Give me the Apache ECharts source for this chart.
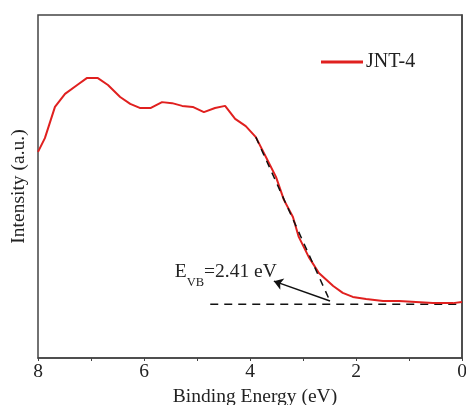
<!DOCTYPE html>
<html>
<head>
<meta charset="utf-8">
<script src="https://cdn.jsdelivr.net/npm/echarts@6/dist/echarts.min.js"></script>
<style>html,body{margin:0;padding:0;background:#fff;}#c{width:466px;height:405px;}</style>
</head>
<body>
<div id="c"></div>
<script>
// Binding energy (eV) and intensity (a.u.)
const energy = [8.0, 7.87, 7.68, 7.49, 7.26, 7.08, 6.87, 6.68, 6.45, 6.26, 6.08, 5.87, 5.66, 5.47, 5.28, 5.08, 4.87, 4.66, 4.47, 4.28, 4.08, 3.89, 3.70, 3.51, 3.36, 3.19, 3.08, 2.89, 2.70, 2.43, 2.25, 2.06, 1.81, 1.49, 1.19, 0.87, 0.55, 0.17, 0.0];
const intensity = [60.1, 64.1, 73.2, 77.0, 79.6, 81.6, 81.6, 79.6, 76.1, 74.1, 72.9, 72.9, 74.6, 74.3, 73.5, 73.2, 71.7, 72.9, 73.5, 69.7, 67.6, 64.4, 58.6, 52.8, 46.1, 41.1, 35.3, 29.4, 24.8, 21.0, 19.0, 17.8, 17.2, 16.6, 16.6, 16.3, 16.0, 16.0, 16.3];
const tangentX = [3.89, 2.50];
const tangentY = [64.4, 16.9];
const baselineX = [4.75, 0.0];
const baselineY = [15.7, 15.7];
const arrowFrom = [2.49, 16.6];
const arrowTo = [3.55, 22.4];
const annotAt = [5.42, 25.1];
const xTicks = [0, 2, 4, 6, 8];
const seriesName = 'JNT-4';

const font = 'Liberation Serif';
const axisColor = '#444';

const chart = echarts.init(document.getElementById('c'), null, {renderer: 'canvas'});
chart.setOption({
  animation: false,
  backgroundColor: '#fff',
  grid: {left: 38, right: 4, top: 15, bottom: 47, show: true, borderColor: axisColor, borderWidth: 1.5, backgroundColor: 'transparent', outerBoundsMode: 'none', containLabel: false},
  legend: {
    data: [seriesName], left: 316, top: 47, itemWidth: 42, itemHeight: 3, itemGap: 4,
    textStyle: {fontFamily: font, fontSize: 20, color: '#222', padding: [0, 0, 0, -2]},
    icon: 'rect'
  },
  xAxis: {
    type: 'value', min: 0, max: 8, interval: 2, inverse: true,
    name: 'Binding Energy (eV)', nameLocation: 'middle', nameGap: 28,
    nameTextStyle: {fontFamily: font, fontSize: 19.5, color: '#222', padding: [0, 0, 0, 10]},
    axisLine: {show: true, lineStyle: {color: axisColor, width: 1.5}},
    axisTick: {show: true, length: 3, lineStyle: {color: axisColor}},
    minorTick: {show: true, splitNumber: 2, length: 3, lineStyle: {color: axisColor}},
    axisLabel: {fontFamily: font, fontSize: 19.5, color: '#222', margin: 4,
      formatter: v => xTicks.includes(v) ? String(v) : ''},
    splitLine: {show: false}
  },
  yAxis: {
    type: 'value', min: 0, max: 100,
    name: 'Intensity (a.u.)', nameLocation: 'middle', nameGap: 9,
    nameTextStyle: {fontFamily: font, fontSize: 19.5, color: '#222'},
    axisLine: {show: true, lineStyle: {color: axisColor, width: 1.5}},
    axisTick: {show: false}, axisLabel: {show: false}, splitLine: {show: false}
  },
  series: [
    {
      name: 'baseline', type: 'line', silent: true, symbol: 'none',
      data: baselineX.map((x, i) => [x, baselineY[i]]),
      lineStyle: {color: '#111', width: 1.5, type: [8, 6]}, z: 2
    },
    {
      name: seriesName, type: 'line', symbol: 'none',
      data: energy.map((x, i) => [x, intensity[i]]),
      lineStyle: {color: '#e0201f', width: 2}, itemStyle: {color: '#e0201f'}, z: 3
    },
    {
      name: 'tangent', type: 'line', silent: true, symbol: 'none',
      data: tangentX.map((x, i) => [x, tangentY[i]]),
      lineStyle: {color: '#111', width: 1.5, type: [7, 6]}, z: 4,
      markLine: {
        silent: true, animation: false,
        lineStyle: {color: '#111', width: 1.5, type: 'solid'},
        label: {show: false},
        data: [[{coord: arrowFrom, symbol: 'none'}, {coord: arrowTo, symbol: 'arrow', symbolSize: 9}]]
      },
      markPoint: {
        silent: true, symbol: 'circle', symbolSize: 0,
        data: [{coord: annotAt}],
        label: {
          show: true, position: 'right', distance: 0,
          formatter: '{e|E}{s|VB}{e|=2.41 eV}',
          rich: {
            e: {fontFamily: font, fontSize: 19.5, color: '#222'},
            s: {fontFamily: font, fontSize: 12.5, color: '#222', verticalAlign: 'bottom', padding: [0, 0, -7, 0]}
          }
        }
      }
    }
  ]
});
</script>
</body>
</html>
